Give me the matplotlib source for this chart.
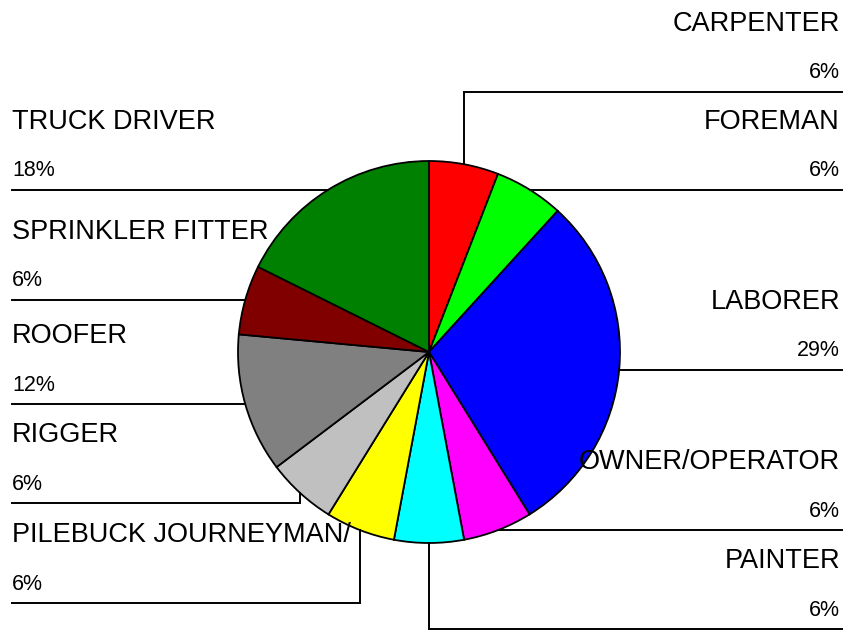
import numpy as np
import matplotlib
matplotlib.use("Agg")
import matplotlib.pyplot as plt

# trade counts (17 in total), clockwise from 12 o'clock
trades = ["CARPENTER", "FOREMAN", "LABORER", "OWNER/OPERATOR", "PAINTER",
          "PILEBUCK JOURNEYMAN/", "RIGGER", "ROOFER", "SPRINKLER FITTER", "TRUCK DRIVER"]
counts = [1, 1, 5, 1, 1, 1, 1, 2, 1, 3]
colors = ["#FF0000", "#00FF00", "#0000FF", "#FF00FF", "#00FFFF",
          "#FFFF00", "#C0C0C0", "#808080", "#800000", "#008000"]

W, H = 851, 634
cx, cy, r = 429, 352, 191

# label layout: side and y of the underline (None = at the wedge's edge point)
sides = ["R", "R", "R", "R", "R", "L", "L", "L", "L", "L"]
line_ys = [92, None, None, None, 629, 603, 503, None, None, None]

plt.rcParams["font.family"] = ["Liberation Sans", "DejaVu Sans"]
fig = plt.figure(figsize=(W / 100, H / 100), dpi=100)
ax = fig.add_axes([0, 0, 1, 1])
ax.set_xlim(0, W)
ax.set_ylim(0, H)
ax.set_aspect("equal")
ax.axis("off")


def fy(y):
    return H - y


ax.pie(counts, colors=colors, startangle=90, counterclock=False,
       center=(cx, fy(cy)), radius=r, frame=True,
       wedgeprops=dict(edgecolor="black", linewidth=1.3))
ax.set_xlim(0, W)
ax.set_ylim(0, H)
ax.axis("off")

total = sum(counts)
start = 0.0
for name, c, side, ly in zip(trades, counts, sides, line_ys):
    frac = c / total
    mid = (start + frac / 2) * 2 * np.pi
    start += frac
    ex = cx + r * np.sin(mid)
    ey = cy - r * np.cos(mid)
    if ly is None:
        ly = ey
    x_end = 842 if side == "R" else 12
    ax.plot([ex, ex, x_end], [fy(ey), fy(ly), fy(ly)], color="black",
            linewidth=1.4, solid_joinstyle="miter", zorder=5)
    pct = f"{round(100 * frac)}%"
    if side == "R":
        tx, ha = 840, "right"
    else:
        tx, ha = 12, "left"
    ax.text(tx, fy(ly - 68), name, ha=ha, va="center", fontsize=19.5, zorder=6)
    ax.text(tx, fy(ly - 19), pct, ha=ha, va="center", fontsize=15.5, zorder=6)

fig.savefig("out.png", dpi=100, facecolor="white")
